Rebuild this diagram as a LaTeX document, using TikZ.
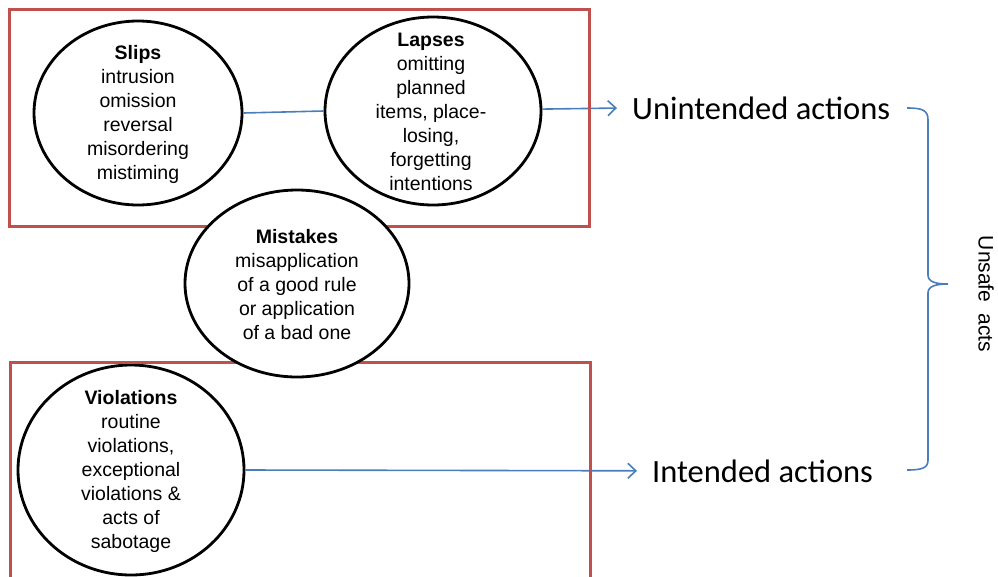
\documentclass[tikz,border=0pt]{standalone}
\usepackage{fontspec}
\setmainfont{Liberation Sans}
\newfontfamily\outcomefont{Carlito}
\usetikzlibrary{shapes.geometric,arrows.meta}
\definecolor{boxred}{HTML}{C0504D}
\definecolor{linkblue}{HTML}{4A7EBB}
% centred block of lines whose baseline is that of its first line
\newcommand\bubblelines[1]{\parbox[t]{240pt}{\centering #1}}
\begin{document}
\begin{tikzpicture}[x=1pt,y=-1pt,
  bubble/.style={ellipse,draw=black,line width=2.8pt,inner sep=0pt,fill=white},
  bubbletext/.style={inner sep=0pt,anchor=base,font=\fontsize{19.5}{24}\selectfont},
  groupframe/.style={draw=boxred,line width=3pt},
  conn/.style={draw=linkblue,line width=1.6pt},
  arrowconn/.style={conn,-{Straight Barb[length=8pt,width=15pt]},shorten >=15pt},
  outcome/.style={inner sep=0pt,anchor=base west,font=\outcomefont\fontsize{32.5}{39}\selectfont},
]
\useasboundingbox (0,0) rectangle (998,576);
\clip (0,0) rectangle (998,576);

% error types
\node[bubble,minimum width=208pt,minimum height=184pt] (slips) at (138,113) {};
\node[bubbletext] (slipstext) at (138,59.5)
  {\bubblelines{\textbf{Slips}\\intrusion\\omission\\reversal\\misordering\\mistiming}};

\node[bubble,minimum width=216pt,minimum height=188pt] (lapses) at (433,111) {};
\node[bubbletext] (lapsestext) at (431,46.7)
  {\bubblelines{\textbf{Lapses}\\omitting\\planned\\items, place-\\losing,\\forgetting\\intentions}};

\node[bubble,minimum width=226pt,minimum height=210pt] (violations) at (131,470) {};
\node[bubbletext] (violationstext) at (131,404)
  {\bubblelines{\textbf{Violations}\\routine\\violations,\\exceptional\\violations \&\\acts of\\sabotage}};

% outcomes
\node[outcome] (unintended) at (632,119) {Unintended actions};
\node[outcome] (intended) at (652,482) {Intended actions};

% connectors
\draw[conn] (slips.east) -- (lapses.west);
\draw[arrowconn] (lapses.1) -- (unintended.west);
\draw[arrowconn] (violations.east) -- (intended.west);

% brace grouping both outcomes
\coordinate (bracetop) at (907,108);
\coordinate (bracetip) at (948,284);
\coordinate (bracebot) at (907,470);
\draw[conn] (bracetop) .. controls (922,108) and (928,110) .. (928,120)
  -- (928,275) .. controls (928,282) and (936,284) .. (bracetip)
  .. controls (936,284) and (928,286) .. (928,293)
  -- (928,460) .. controls (928,468) and (922,470) .. (bracebot);
\node[rotate=-90,inner sep=0pt,font=\fontsize{21}{24}\selectfont] (unsafe) at (986,294)
  {Unsafe\hspace{11pt}acts};

% group frames
\draw[groupframe] (9,9) rectangle (589,226);
\draw[groupframe] (10,362) rectangle (590,600);

% mistakes sit across both groups
\node[bubble,minimum width=224pt,minimum height=187pt] (mistakes) at (297,283.5) {};
\node[bubbletext] (mistakestext) at (297,243)
  {\bubblelines{\textbf{Mistakes}\\misapplication\\of a good rule\\or application\\of a bad one}};
\end{tikzpicture}
\end{document}
